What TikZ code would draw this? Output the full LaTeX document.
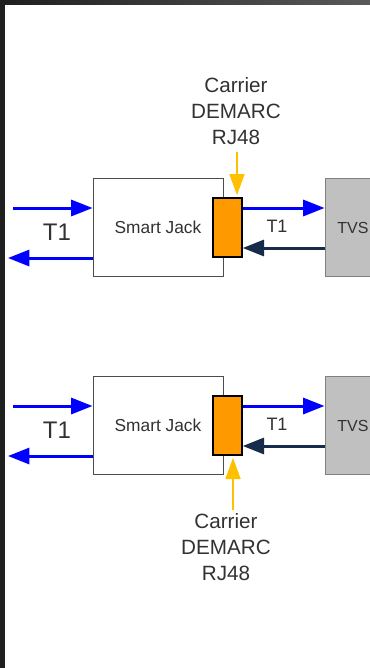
\documentclass[tikz,border=0pt]{standalone}
\usepackage{fontspec}
\setmainfont{Liberation Sans}
\usetikzlibrary{arrows.meta}
\definecolor{lineblue}{RGB}{0,0,255}
\definecolor{linenavy}{RGB}{22,44,74}
\definecolor{demarcfill}{RGB}{255,153,0}
\definecolor{demarcarrow}{RGB}{255,192,0}
\definecolor{tvsfill}{RGB}{192,192,192}
\definecolor{txtgray}{RGB}{50,50,50}

\begin{document}
\begin{tikzpicture}[x=0.75pt,y=0.75pt,yscale=-1,xscale=1,
  jackbox/.style={draw=black!70, fill=white, line width=0.75pt, minimum width=97.5pt, minimum height=73pt, inner sep=0pt, text=txtgray, font=\fontsize{13}{15}\selectfont},
  demarcbox/.style={draw=black, fill=demarcfill, line width=1pt, minimum width=21.75pt, minimum height=44.25pt, inner sep=0pt},
  tvsbox/.style={draw=black!50, fill=tvsfill, line width=0.75pt, minimum width=42pt, minimum height=74pt, inner sep=0pt, text=txtgray, font=\fontsize{12}{14}\selectfont},
  bigtxt/.style={text=txtgray, font=\fontsize{18}{20}\selectfont, inner sep=0pt},
  smalltxt/.style={text=txtgray, font=\fontsize{13.5}{15}\selectfont, inner sep=0pt},
  carriertxt/.style={text=txtgray, align=center, inner sep=0pt, font=\fontsize{15.5}{19.5}\selectfont},
  bluearrow/.style={draw=lineblue, line width=2.25pt, -{Triangle[length=16pt,width=12pt]}},
  navyarrow/.style={draw=linenavy, line width=2.25pt, -{Triangle[length=16pt,width=12pt]}},
  yellowarrow/.style={draw=demarcarrow, line width=2pt, -{Triangle[length=16pt,width=11pt]}, shorten >=1.5pt}]
\useasboundingbox (0,0) rectangle (370,668);
\clip (0,0) rectangle (370,668);
%Frame of the screenshot
\fill[left color=black!88, right color=black!65] (0,0) rectangle (370,4);
\fill[black!88] (0,0) rectangle (5,668);

%Upper line: boxes
\node[jackbox] (jack1) at (158,227.5) {Smart Jack};
\node[demarcbox] (demarc1) at (227.5,227.5) {};
\node[tvsbox] (tvs1) at (353,227.5) {TVS};
% Text Node
\node[bigtxt] (tone1) at (57,232) {T1};
\node[smalltxt] (ttwo1) at (277,226) {T1};
\node[carriertxt] (carrier1) at (236,111) {Carrier\\DEMARC\\RJ48};
%Upper line: arrows
\coordinate (in1) at (13,208);
\coordinate (out1) at (8,258);
\coordinate (drop1) at (237,152);
\draw[bluearrow] (in1) -- (in1 -| jack1.west);
\draw[bluearrow] (jack1.west |- out1) -- (out1);
\draw[bluearrow] (demarc1.east |- in1) -- (tvs1.west |- in1);
\draw[navyarrow] (tvs1.west |- 0,248) -- (demarc1.east |- 0,248);
\draw[yellowarrow] (drop1) -- (drop1 |- demarc1.north);

%Lower line: boxes
\node[jackbox] (jack2) at (158,425.5) {Smart Jack};
\node[demarcbox] (demarc2) at (227.5,425.5) {};
\node[tvsbox] (tvs2) at (353,425.5) {TVS};
% Text Node
\node[bigtxt] (tone2) at (57,430) {T1};
\node[smalltxt] (ttwo2) at (277,424) {T1};
\node[carriertxt] (carrier2) at (226,547) {Carrier\\DEMARC\\RJ48};
%Lower line: arrows
\coordinate (in2) at (13,406);
\coordinate (out2) at (8,456);
\coordinate (drop2) at (233,510);
\draw[bluearrow] (in2) -- (in2 -| jack2.west);
\draw[bluearrow] (jack2.west |- out2) -- (out2);
\draw[bluearrow] (demarc2.east |- in2) -- (tvs2.west |- in2);
\draw[navyarrow] (tvs2.west |- 0,446) -- (demarc2.east |- 0,446);
\draw[yellowarrow] (drop2) -- (drop2 |- demarc2.south);
\end{tikzpicture}
\end{document}
